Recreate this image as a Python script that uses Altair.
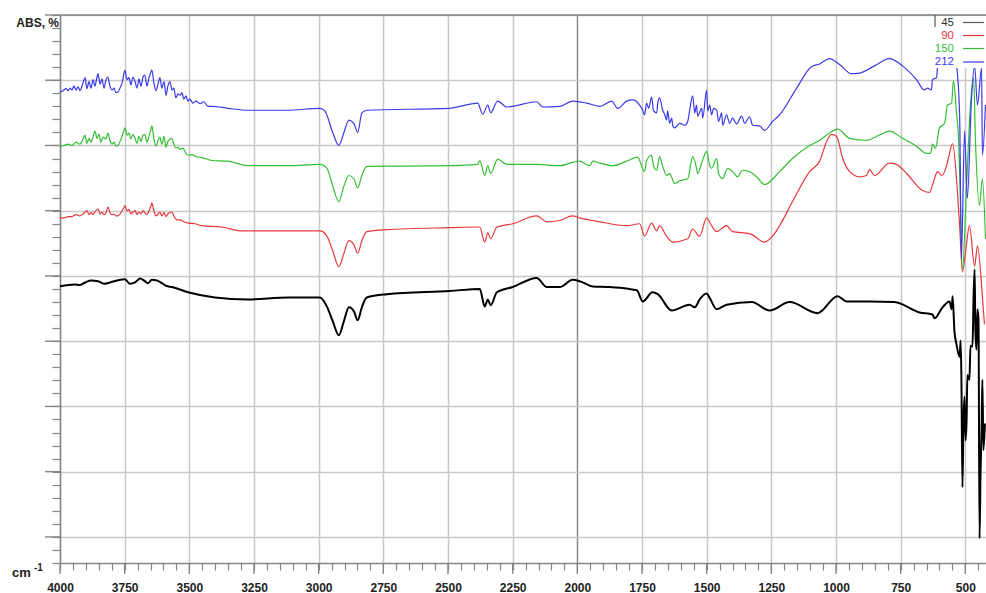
import altair as alt
import pandas as pd

# ---- data: (wavenumber cm-1, absorbance %) ----
series_names = ["45", "90", "150", "212"]
series_colors = ["#000000", "#e8383d", "#33bf33", "#3a3ae8"]
legend_colors = ["#555555", "#e8383d", "#33bf33", "#3a3ae8"]
x_tick_labels = list(range(500, 4001, 250))
x_minor_ticks = list(range(450, 4001, 50))
y_major_ticks = list(range(0, 81, 10))
y_minor_ticks = list(range(-4, 81, 2))

black_45 = [
    (4000, 38.4), (3942, 38.7), (3925, 38.6), (3903, 39.0), (3880, 39.3), (3853, 39.2),
    (3830, 38.8), (3807, 39.0), (3780, 39.3), (3749, 39.5), (3730, 38.8), (3710, 39.0),
    (3690, 39.6), (3672, 39.2), (3660, 38.9), (3645, 39.4), (3625, 39.3), (3606, 38.9),
    (3590, 38.5), (3567, 38.3), (3505, 37.5), (3401, 36.7), (3274, 36.4), (3119, 36.7),
    (2995, 36.7), (2968, 35.3), (2945, 33.0), (2922, 30.9), (2903, 33.0), (2883, 35.2),
    (2864, 34.6), (2849, 33.2), (2833, 35.2), (2814, 36.7), (2736, 37.2), (2493, 37.7),
    (2377, 38.0), (2358, 35.3), (2346, 36.4), (2335, 35.5), (2311, 37.5), (2250, 38.3),
    (2157, 39.7), (2118, 38.3), (2068, 38.3), (2018, 39.4), (1991, 39.2), (1940, 38.4),
    (1875, 38.3), (1770, 37.8), (1747, 36.1), (1709, 37.5), (1689, 37.2), (1635, 34.7),
    (1566, 35.6), (1546, 35.2), (1527, 36.4), (1500, 37.3), (1488, 36.6), (1461, 34.9),
    (1423, 35.6), (1326, 36.0), (1257, 34.7), (1179, 36.0), (1071, 34.3), (994, 36.9),
    (959, 36.1), (870, 36.1), (774, 36.0), (677, 34.4), (627, 34.1), (619, 33.5),
    (588, 35.2), (561, 36.1), (553, 34.9), (549, 36.9), (542, 31.5), (534, 29.5),
    (522, 27.6), (518, 30.1), (515, 24.1), (511, 7.6), (507, 17.9), (503, 21.5),
    (499, 14.8), (495, 17.9), (492, 24.8), (484, 24.1), (480, 29.3), (472, 29.2),
    (468, 36.9), (464, 41.0), (461, 31.8), (457, 28.7), (453, 34.9), (449, 33.3),
    (445, -0.2), (441, 10.2), (437, 16.8), (434, 24.1), (430, 13.3), (424, 17.4),
]

red_90 = [
    (4000, 48.9), (3985, 48.9), (3969, 49.1), (3954, 49.1), (3938, 49.4), (3923, 49.2),
    (3911, 49.5), (3896, 50.0), (3888, 49.4), (3880, 49.7), (3872, 49.4), (3865, 49.8),
    (3853, 50.3), (3845, 49.5), (3838, 49.8), (3830, 49.4), (3822, 49.7), (3815, 50.6),
    (3807, 49.7), (3799, 49.4), (3791, 49.5), (3784, 49.2), (3776, 49.2), (3768, 49.5),
    (3760, 50.0), (3753, 50.5), (3749, 50.8), (3741, 50.0), (3733, 50.2), (3726, 49.5),
    (3718, 49.8), (3710, 50.0), (3702, 49.4), (3695, 49.8), (3687, 49.5), (3679, 50.0),
    (3672, 49.7), (3664, 49.4), (3656, 50.0), (3648, 50.8), (3645, 51.2), (3637, 50.0),
    (3629, 49.2), (3621, 49.5), (3614, 49.8), (3606, 49.2), (3598, 49.7), (3590, 49.1),
    (3583, 49.5), (3575, 49.7), (3567, 49.8), (3560, 49.2), (3548, 48.6), (3536, 48.6),
    (3521, 48.3), (3505, 48.1), (3478, 48.0), (3451, 47.7), (3374, 47.5), (3297, 46.9),
    (3219, 46.9), (3015, 46.9), (2995, 46.9), (2968, 46.1), (2945, 43.8), (2922, 41.4),
    (2903, 43.4), (2883, 45.4), (2864, 44.8), (2849, 43.5), (2833, 45.4), (2814, 46.8),
    (2736, 47.1), (2493, 47.4), (2377, 47.5), (2358, 45.2), (2346, 46.6), (2335, 45.7),
    (2311, 47.5), (2250, 48.0), (2157, 49.2), (2118, 48.3), (2068, 48.5), (2018, 49.2),
    (1991, 48.9), (1940, 48.5), (1913, 48.3), (1809, 47.7), (1759, 48.0), (1740, 46.1),
    (1713, 48.1), (1693, 46.9), (1682, 47.7), (1655, 46.1), (1631, 45.2), (1573, 45.7),
    (1554, 47.2), (1527, 46.1), (1500, 48.9), (1481, 47.7), (1461, 46.8), (1423, 47.7),
    (1400, 46.8), (1334, 46.5), (1276, 45.2), (1245, 46.1), (1218, 47.7), (1168, 51.4),
    (1102, 56.0), (1063, 57.6), (1036, 60.6), (1017, 61.7), (998, 61.4), (974, 58.0),
    (947, 56.0), (909, 55.2), (882, 55.4), (870, 56.3), (851, 55.4), (793, 57.3),
    (766, 57.1), (727, 55.7), (665, 53.1), (638, 52.8), (627, 53.9), (607, 56.0),
    (592, 55.4), (573, 56.8), (561, 58.8), (549, 60.3), (534, 54.9), (522, 47.7),
    (511, 40.6), (499, 43.7), (484, 47.7), (464, 41.5), (453, 44.6), (434, 36.9),
    (426, 32.6),
]

green_150 = [
    (4000, 59.9), (3985, 60.0), (3969, 60.2), (3954, 60.0), (3938, 60.5), (3923, 60.2),
    (3911, 61.0), (3903, 61.6), (3896, 60.3), (3888, 61.1), (3880, 60.5), (3872, 61.4),
    (3865, 62.2), (3857, 61.1), (3849, 61.7), (3842, 60.5), (3834, 61.3), (3822, 61.0),
    (3815, 61.9), (3807, 60.8), (3799, 60.2), (3791, 60.5), (3784, 59.9), (3776, 60.0),
    (3768, 60.6), (3760, 61.4), (3753, 62.3), (3749, 62.7), (3741, 61.6), (3733, 61.9),
    (3726, 61.0), (3718, 61.7), (3710, 61.1), (3702, 60.3), (3695, 61.4), (3687, 60.6),
    (3679, 61.6), (3672, 61.7), (3664, 60.5), (3656, 61.4), (3648, 62.5), (3645, 63.0),
    (3637, 61.1), (3629, 59.9), (3621, 60.8), (3614, 61.3), (3606, 60.2), (3598, 61.4),
    (3590, 59.7), (3583, 60.6), (3575, 61.0), (3567, 61.1), (3560, 60.2), (3552, 59.6),
    (3544, 59.7), (3536, 59.4), (3525, 59.6), (3513, 58.8), (3505, 58.5), (3490, 58.6),
    (3474, 58.3), (3459, 58.2), (3440, 58.0), (3413, 57.7), (3351, 57.6), (3274, 56.9),
    (3119, 56.9), (2995, 57.1), (2968, 56.5), (2945, 53.7), (2922, 51.4), (2903, 53.7),
    (2883, 55.4), (2864, 54.9), (2849, 53.5), (2833, 55.4), (2814, 56.8), (2493, 56.9),
    (2385, 57.1), (2377, 57.7), (2358, 55.4), (2346, 56.9), (2335, 55.7), (2308, 57.9),
    (2273, 57.1), (2157, 57.1), (2068, 56.9), (2018, 57.4), (1991, 57.6), (1952, 56.9),
    (1940, 57.6), (1913, 57.3), (1863, 56.9), (1809, 57.6), (1767, 58.2), (1740, 56.0),
    (1732, 57.7), (1713, 58.5), (1705, 56.8), (1693, 56.2), (1682, 58.3), (1670, 56.8),
    (1655, 55.4), (1643, 55.7), (1624, 54.2), (1604, 54.6), (1573, 54.9), (1554, 58.3),
    (1539, 56.5), (1535, 55.7), (1519, 57.3), (1500, 59.1), (1488, 56.9), (1481, 56.5),
    (1461, 58.0), (1454, 55.7), (1438, 54.9), (1419, 56.5), (1400, 56.0), (1380, 55.2),
    (1361, 56.2), (1334, 56.0), (1307, 55.2), (1276, 54.0), (1218, 56.0), (1168, 58.0),
    (1102, 60.0), (1063, 60.8), (1025, 61.9), (994, 62.5), (947, 61.1), (882, 60.8),
    (832, 61.6), (793, 62.2), (743, 61.1), (689, 59.9), (650, 58.8), (634, 58.8),
    (627, 60.2), (615, 59.6), (600, 62.7), (580, 63.4), (569, 66.2), (553, 66.5),
    (546, 69.9), (534, 65.0), (526, 60.9), (522, 56.0), (511, 41.0), (495, 53.9),
    (480, 66.2), (468, 70.4), (461, 61.1), (445, 50.8), (434, 54.9), (422, 45.7),
]

blue_212 = [
    (4000, 68.2), (3988, 68.4), (3977, 68.7), (3969, 68.4), (3961, 68.8), (3954, 68.5),
    (3946, 69.1), (3938, 68.5), (3930, 69.0), (3923, 68.4), (3911, 69.6), (3903, 70.4),
    (3896, 68.7), (3888, 69.8), (3880, 68.8), (3872, 70.1), (3865, 69.1), (3857, 70.5),
    (3853, 71.0), (3845, 69.4), (3838, 70.2), (3830, 68.8), (3822, 70.1), (3815, 70.5),
    (3807, 69.1), (3799, 68.5), (3791, 68.8), (3784, 68.1), (3776, 68.2), (3768, 68.8),
    (3760, 69.6), (3753, 71.0), (3749, 71.5), (3741, 70.1), (3733, 70.4), (3726, 69.3),
    (3718, 70.5), (3710, 69.8), (3702, 68.8), (3695, 70.2), (3687, 69.1), (3679, 70.5),
    (3672, 70.8), (3664, 69.1), (3656, 70.4), (3648, 71.3), (3645, 71.6), (3637, 69.6),
    (3629, 68.4), (3621, 69.4), (3614, 70.4), (3606, 68.8), (3598, 69.8), (3590, 67.7),
    (3583, 69.1), (3575, 69.8), (3567, 68.5), (3560, 68.8), (3552, 67.3), (3544, 67.9),
    (3536, 67.7), (3529, 68.1), (3521, 67.1), (3513, 67.6), (3505, 66.8), (3498, 67.1),
    (3486, 66.5), (3474, 66.8), (3459, 66.4), (3444, 66.7), (3428, 66.0), (3413, 66.0),
    (3351, 65.7), (3274, 65.4), (3119, 65.4), (2995, 65.7), (2976, 65.3), (2945, 61.9),
    (2922, 60.0), (2903, 61.9), (2883, 63.9), (2864, 63.4), (2849, 62.0), (2833, 65.0),
    (2814, 65.4), (2493, 65.7), (2385, 66.5), (2366, 64.8), (2346, 66.2), (2335, 65.0),
    (2308, 66.8), (2273, 65.9), (2157, 66.7), (2134, 65.9), (2068, 66.0), (2018, 66.8),
    (1964, 66.5), (1913, 66.0), (1867, 66.8), (1844, 65.7), (1809, 66.8), (1786, 67.0),
    (1759, 66.2), (1747, 65.4), (1740, 64.7), (1732, 66.5), (1724, 65.7), (1713, 67.4),
    (1705, 65.3), (1693, 65.0), (1689, 66.5), (1682, 67.3), (1670, 65.4), (1662, 64.7),
    (1655, 63.9), (1651, 65.3), (1643, 63.4), (1635, 64.2), (1631, 63.0), (1624, 62.7),
    (1604, 63.4), (1585, 63.1), (1573, 63.7), (1566, 65.3), (1554, 67.6), (1546, 65.0),
    (1539, 66.2), (1535, 64.5), (1519, 65.7), (1515, 64.2), (1500, 68.5), (1496, 65.3),
    (1488, 66.2), (1481, 64.7), (1473, 65.7), (1461, 65.4), (1454, 63.7), (1442, 65.0),
    (1438, 63.1), (1423, 64.7), (1411, 63.4), (1400, 64.2), (1384, 63.3), (1365, 64.5),
    (1353, 63.4), (1334, 64.4), (1322, 63.1), (1295, 63.0), (1276, 62.3), (1245, 63.7),
    (1218, 64.7), (1152, 68.8), (1094, 72.1), (1063, 72.5), (1025, 73.3), (986, 72.4),
    (940, 71.0), (909, 71.1), (851, 72.2), (793, 73.3), (743, 72.2), (689, 70.1),
    (658, 68.5), (646, 68.8), (631, 68.5), (627, 70.1), (611, 70.4), (607, 72.2),
    (576, 75.0), (553, 74.7), (534, 72.2), (522, 64.7), (515, 42.6), (503, 62.2),
    (492, 51.9), (476, 67.3), (464, 72.2), (453, 66.2), (437, 71.9), (434, 58.5),
    (422, 66.2),
]

series_data = {"45": black_45, "90": red_90, "150": green_150, "212": blue_212}

W, H = 926, 548
AXIS_GREY = "#858585"

x_scale = alt.Scale(domain=[4000, 420], nice=False, zero=False)
y_scale = alt.Scale(domain=[-4, 80], nice=False, zero=False)

major_x = "datum.value % 250 === 0"
x_axis = alt.Axis(
    values=x_minor_ticks,
    format="d",
    labelExpr=f"{major_x} ? datum.label : ''",
    tickSize=7,
    tickColor=AXIS_GREY,
    tickWidth=1.2,
    grid=True,
    gridOpacity={"condition": {"test": major_x, "value": 1}, "value": 0},
    gridColor={"condition": {"test": "datum.value === 2000", "value": "#8a8a8a"}, "value": "#c8c8c8"},
    gridWidth=1.5,
    domainColor=AXIS_GREY,
    domainWidth=1.5,
    labelFont="Liberation Sans",
    labelFontWeight="bold",
    labelFontSize=12,
    labelColor="#222222",
    labelPadding=12,
    labelOverlap=False,
    labelFlush=False,
    title=None,
)

major_y = "datum.value % 10 === 0"
y_axis = alt.Axis(
    values=y_minor_ticks,
    labels=False,
    tickSize=8,
    tickColor=AXIS_GREY,
    tickWidth=1.2,
    grid=True,
    gridOpacity={"condition": {"test": major_y, "value": 1}, "value": 0},
    gridColor="#c8c8c8",
    gridWidth=1.5,
    domainColor=AXIS_GREY,
    domainWidth=1.5,
    title=None,
)

layers = []
draw_order = ["90", "150", "212", "45"]
for name in draw_order:
    pts = series_data[name]
    df = pd.DataFrame({
        "wn": [p[0] for p in pts],
        "absv": [p[1] for p in pts],
        "idx": list(range(len(pts))),
    })
    color = series_colors[series_names.index(name)]
    width = 2.0 if name == "45" else 1.2
    layers.append(
        alt.Chart(df).mark_line(
            color=color, strokeWidth=width, clip=True, interpolate="monotone"
        ).encode(
            x=alt.X("wn:Q", scale=x_scale, axis=x_axis),
            y=alt.Y("absv:Q", scale=y_scale, axis=y_axis),
            order=alt.Order("idx:Q"),
        )
    )

# longer major ticks on both axes
layers.append(
    alt.Chart(pd.DataFrame({"wn": x_tick_labels})).mark_rule(
        color=AXIS_GREY, strokeWidth=1.4, clip=False
    ).encode(
        x=alt.X("wn:Q", scale=x_scale, axis=x_axis),
        y=alt.value(H), y2=alt.value(H + 11),
    )
)
layers.append(
    alt.Chart(pd.DataFrame({"absv": y_major_ticks})).mark_rule(
        color=AXIS_GREY, strokeWidth=1.4, clip=False
    ).encode(
        y=alt.Y("absv:Q", scale=y_scale, axis=y_axis),
        x=alt.value(-15), x2=alt.value(0),
    )
)

one = pd.DataFrame({"a": [0]})

# top border of the plot frame
layers.append(
    alt.Chart(one).mark_rule(color=AXIS_GREY, strokeWidth=1.5).encode(
        x=alt.value(0), x2=alt.value(W), y=alt.value(0)
    )
)

# legend box (white, covering lines behind it)
layers.append(
    alt.Chart(one).mark_rect(color="white").encode(
        x=alt.value(875), x2=alt.value(W), y=alt.value(1), y2=alt.value(53)
    )
)
layers.append(
    alt.Chart(one).mark_rule(color="#555555", strokeWidth=1.2).encode(
        x=alt.value(875), y=alt.value(0), y2=alt.value(12)
    )
)
legend_rows = [7.5, 20.5, 33.5, 47]
for name, col, yy in zip(series_names, legend_colors, legend_rows):
    txt_col = "#333333" if name == "45" else col
    layers.append(
        alt.Chart(pd.DataFrame({"t": [name]})).mark_text(
            align="right", baseline="middle", font="Liberation Sans",
            fontSize=11.5, color=txt_col
        ).encode(text="t:N", x=alt.value(894), y=alt.value(yy))
    )
    layers.append(
        alt.Chart(one).mark_rule(color=col, strokeWidth=1.2).encode(
            x=alt.value(903), x2=alt.value(924), y=alt.value(yy)
        )
    )

# axis captions
layers.append(
    alt.Chart(pd.DataFrame({"t": ["ABS, %"]})).mark_text(
        align="right", baseline="middle", font="Liberation Sans",
        fontSize=12, fontWeight="bold", color="#222222"
    ).encode(text="t:N", x=alt.value(-1), y=alt.value(8))
)
layers.append(
    alt.Chart(pd.DataFrame({"t": ["cm"]})).mark_text(
        align="left", baseline="alphabetic", font="Liberation Sans",
        fontSize=13, fontWeight="bold", color="#222222"
    ).encode(text="t:N", x=alt.value(-48), y=alt.value(562))
)
layers.append(
    alt.Chart(pd.DataFrame({"t": ["-1"]})).mark_text(
        align="left", baseline="alphabetic", font="Liberation Sans",
        fontSize=10, fontWeight="bold", color="#222222"
    ).encode(text="t:N", x=alt.value(-26), y=alt.value(556))
)

chart = alt.layer(*layers).properties(
    width=W,
    height=H,
    autosize=alt.AutoSizeParams(type="none"),
    padding={"left": 60, "top": 15, "right": 0, "bottom": 30},
    background="white",
).configure_view(strokeWidth=0)

chart.save("out.html", embed_options={"renderer": "svg", "actions": False})
